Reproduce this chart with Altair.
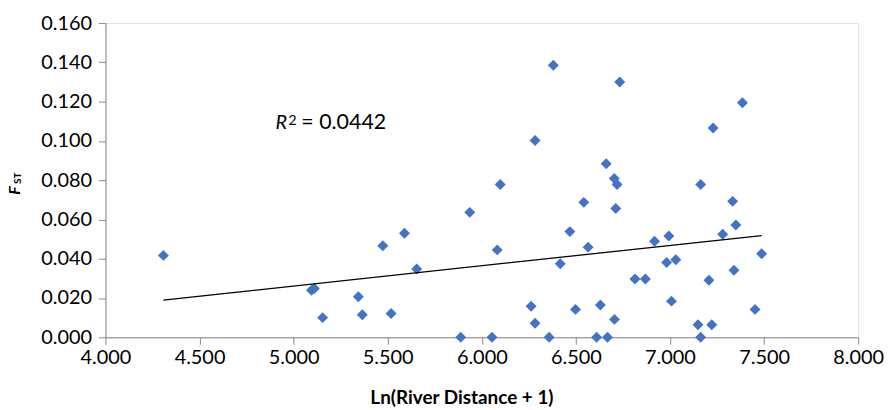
import altair as alt
import pandas as pd

# Ln(River Distance + 1)
ln_dist = [
    4.308, 5.095, 5.110, 5.154, 5.344, 5.365, 5.474, 5.518, 5.589, 5.654,
    5.888, 5.936, 6.054, 6.082, 6.098, 6.262, 6.283, 6.283, 6.358, 6.380,
    6.417, 6.468, 6.498, 6.542, 6.565, 6.610, 6.630, 6.661, 6.668, 6.704,
    6.705, 6.712, 6.719, 6.733, 6.814, 6.869, 6.918, 6.982, 6.994, 7.008,
    7.031, 7.149, 7.163, 7.163, 7.207, 7.222, 7.229, 7.280, 7.333, 7.340,
    7.350, 7.385, 7.452, 7.487,
]
# F_ST
fst = [
    0.0417, 0.0239, 0.0248, 0.0100, 0.0206, 0.0115, 0.0466, 0.0121, 0.0530, 0.0348,
    0.0000, 0.0636, 0.0000, 0.0445, 0.0778, 0.0158, 0.1002, 0.0071, 0.0000, 0.1385,
    0.0374, 0.0538, 0.0142, 0.0687, 0.0459, 0.0000, 0.0164, 0.0884, 0.0000, 0.0808,
    0.0091, 0.0656, 0.0778, 0.1300, 0.0297, 0.0297, 0.0489, 0.0381, 0.0516, 0.0184,
    0.0395, 0.0064, 0.0778, 0.0000, 0.0290, 0.0064, 0.1066, 0.0525, 0.0692, 0.0341,
    0.0572, 0.1194, 0.0142, 0.0425,
]
# linear trend line end points
trend_x = [4.308, 7.487]
trend_y = [0.0189, 0.0518]

x_ticks = [4.0, 4.5, 5.0, 5.5, 6.0, 6.5, 7.0, 7.5, 8.0]
y_ticks = [0.0, 0.02, 0.04, 0.06, 0.08, 0.10, 0.12, 0.14, 0.16]
x_title = "Ln(River Distance + 1)"
r2_value = "= 0.0442"

df = pd.DataFrame({"x": ln_dist, "y": fst})
df_trend = pd.DataFrame({"x": trend_x, "y": trend_y})

FONT = "Lato"
AXIS_GRAY = "#898989"
BLUE = "#4472C4"

xscale = alt.Scale(domain=[4, 8], nice=False, zero=False)
yscale = alt.Scale(domain=[0, 0.16], nice=False)

xaxis = alt.Axis(
    values=x_ticks, tickCount=len(x_ticks) + 1, format=".3f", title=x_title, grid=False,
    domainColor=AXIS_GRAY, tickColor=AXIS_GRAY, tickSize=7,
    labelFont=FONT, labelFontSize=20, labelColor="#000000", labelPadding=3,
    labelFlush=False, labelOverlap=False,
    titleFont=FONT, titleFontSize=19, titleFontWeight="bold", titleColor="#000000",
    titleX=358, titleY=67, titleBaseline="alphabetic", titleAlign="center",
)
yaxis = alt.Axis(
    values=y_ticks, tickCount=len(y_ticks) + 1, format=".3f", title=None, grid=False,
    domainColor=AXIS_GRAY, tickColor=AXIS_GRAY, tickSize=7,
    labelFont=FONT, labelFontSize=20, labelColor="#000000", labelPadding=7,
    labelFlush=False, labelOverlap=False,
)

points = alt.Chart(df).mark_point(
    shape="diamond", filled=True, size=121, color=BLUE, opacity=1
).encode(
    x=alt.X("x:Q", scale=xscale, axis=xaxis),
    y=alt.Y("y:Q", scale=yscale, axis=yaxis),
)

trend = alt.Chart(df_trend).mark_line(
    color="#000000", strokeWidth=1.3
).encode(
    x=alt.X("x:Q", scale=xscale),
    y=alt.Y("y:Q", scale=yscale),
)

# y-axis title F_ST (rotated)
f_lbl = alt.Chart(pd.DataFrame({"t": ["F"]})).mark_text(
    font=FONT, fontSize=16, fontWeight="bold", fontStyle="italic", angle=270,
    align="center", baseline="alphabetic", color="#000000"
).encode(text="t:N", x=alt.value(-85.5), y=alt.value(168.5))
st_lbl = alt.Chart(pd.DataFrame({"t": ["ST"]})).mark_text(
    font=FONT, fontSize=10, fontWeight="bold", angle=270,
    align="center", baseline="alphabetic", color="#000000"
).encode(text="t:N", x=alt.value(-85), y=alt.value(156))

# R^2 annotation
r_lbl = alt.Chart(pd.DataFrame({"t": ["R"]})).mark_text(
    font=FONT, fontSize=20, fontStyle="italic", align="left",
    baseline="alphabetic", color="#000000"
).encode(text="t:N", x=alt.value(171), y=alt.value(107))
sup_lbl = alt.Chart(pd.DataFrame({"t": ["2"]})).mark_text(
    font=FONT, fontSize=14, align="left", baseline="alphabetic", color="#000000"
).encode(text="t:N", x=alt.value(184), y=alt.value(103))
val_lbl = alt.Chart(pd.DataFrame({"t": [r2_value]})).mark_text(
    font=FONT, fontSize=21.5, align="left", baseline="alphabetic", color="#000000"
).encode(text="t:N", x=alt.value(197), y=alt.value(107))

chart = alt.layer(points, trend, f_lbl, st_lbl, r_lbl, sup_lbl, val_lbl).properties(
    width=757, height=316,
    autosize=alt.AutoSizeParams(type="none"),
    padding={"left": 98, "top": 14, "right": 28, "bottom": 72},
).configure_view(stroke=None).configure(background="white")

chart.save("out.html", embed_options={"renderer": "svg", "actions": False})
